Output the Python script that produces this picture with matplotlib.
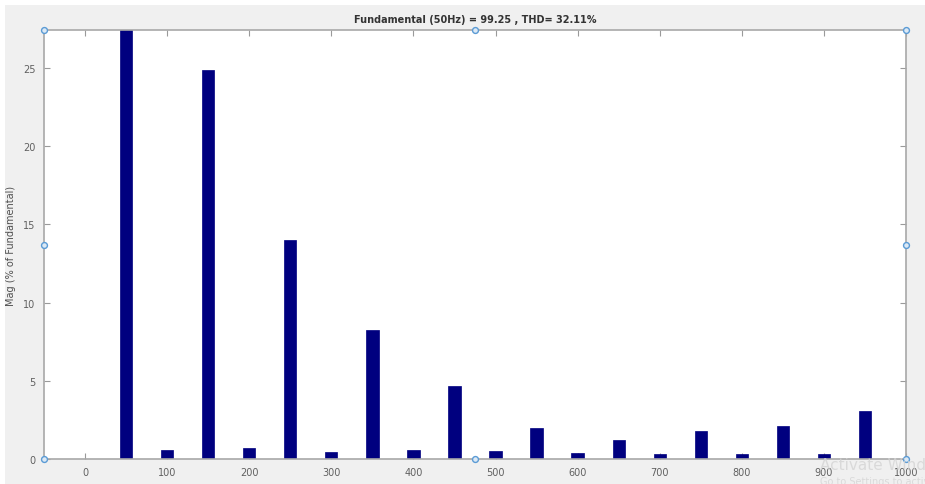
import matplotlib
matplotlib.use("Agg")
import matplotlib.pyplot as plt
from matplotlib.patches import Rectangle

# Data (harmonic spectrum, % of fundamental)
freqs = [50, 100, 150, 200, 250, 300, 350, 400, 450, 500,
         550, 600, 650, 700, 750, 800, 850, 900, 950]
mags = [100.0, 0.56, 24.9, 0.7, 14.0, 0.45, 8.25, 0.55, 4.67, 0.49,
        1.97, 0.36, 1.23, 0.3, 1.77, 0.3, 2.09, 0.3, 3.07]
xticks = [0, 100, 200, 300, 400, 500, 600, 700, 800, 900, 1000]
yticks = [0, 5, 10, 15, 20, 25]
title = "Fundamental (50Hz) = 99.25 , THD= 32.11%"

fig = plt.figure(figsize=(9.25, 4.85), dpi=100)
fig.patch.set_facecolor("white")
fig.patches.append(Rectangle((5/925, 0), 1, 1 - 6/485, transform=fig.transFigure,
                             facecolor="#f0f0f0", edgecolor="none", zorder=-10))

ax = fig.add_axes([44/925, 25/485, (906-44)/925, (460-31)/485])
ax.set_facecolor("white")
ax.bar(freqs, mags, width=15, color="#00007f", edgecolor="#00007f", linewidth=0.5, zorder=2)
ax.set_xlim(-50, 1000)
ax.set_ylim(0, 27.43)
ax.set_xticks(xticks)
ax.set_yticks(yticks)
ax.tick_params(direction="in", length=4, width=0.8, colors="#9a9a9a",
               labelsize=7, labelcolor="#606060", top=True, right=True, pad=6)
for s in ax.spines.values():
    s.set_color("#a8a8a8")
    s.set_linewidth(1.2)

ax.set_title(title, fontsize=7, fontweight="bold", color="#333333", pad=6)
ax.set_ylabel("Mag (% of Fundamental)", fontsize=7, color="#505050")
ax.yaxis.set_label_coords(-28/862, 0.5)
ax.set_xlabel("Frequency (Hz)", fontsize=7, color="#505050", labelpad=10)

# selection handles
hx = [0, 0.5, 1, 0, 1, 0, 0.5, 1]
hy = [0, 0, 0, 0.5, 0.5, 1, 1, 1]
ax.scatter(hx, hy, s=18, facecolor="#dce9f5", edgecolor="#5b9bd5", linewidth=1,
           transform=ax.transAxes, clip_on=False, zorder=5)

fig.text(0.887, 0.03, "Activate Windows", fontsize=11, color="#d4d4d4", alpha=0.8)
fig.text(0.887, 0.0, "Go to Settings to activate Windows.", fontsize=7, color="#d4d4d4", alpha=0.8)

fig.savefig("out.png", dpi=100, facecolor=fig.get_facecolor())
